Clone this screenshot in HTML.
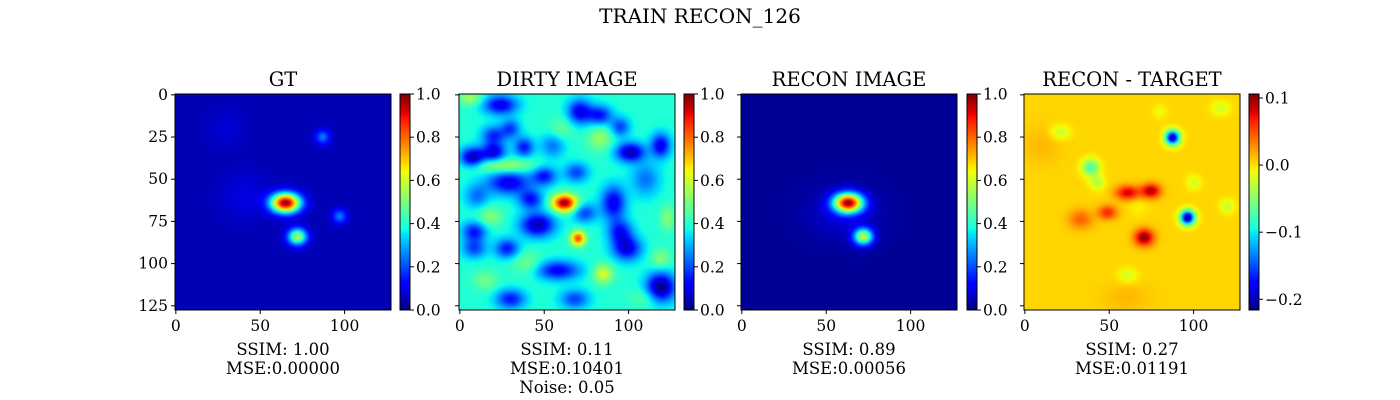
<!DOCTYPE html>
<html><head><meta charset="utf-8">
<style>
body{margin:0;background:#fff;width:1400px;height:400px;overflow:hidden;position:relative;font-family:"DejaVu Serif","Liberation Serif",serif;}
canvas{position:absolute;}
svg{position:absolute;left:0;top:0;}
svg text{font-family:"DejaVu Serif","Liberation Serif",serif;fill:#000;}
</style></head>
<body>
<canvas id="c0" width="128" height="128" style="left:175px;top:94px;width:216px;height:216px"></canvas>
<canvas id="c1" width="128" height="128" style="left:459px;top:94px;width:216px;height:216px"></canvas>
<canvas id="c2" width="128" height="128" style="left:741px;top:94px;width:216px;height:216px"></canvas>
<canvas id="c3" width="128" height="128" style="left:1024px;top:94px;width:216px;height:216px"></canvas>
<canvas id="b0" width="1" height="216" style="left:400px;top:94px;width:10px;height:216px"></canvas>
<canvas id="b1" width="1" height="216" style="left:684px;top:94px;width:10px;height:216px"></canvas>
<canvas id="b2" width="1" height="216" style="left:967px;top:94px;width:10px;height:216px"></canvas>
<canvas id="b3" width="1" height="216" style="left:1249px;top:94px;width:10px;height:216px"></canvas>
<svg id="s" width="1400" height="400"></svg>
<script>
// blobs: [x, y, amplitude, sigmaX, sigmaY]
const gtBase = 0.045;
const gtBlobs = [[65,64,0.95,6,4],[72,84,0.5,4,3.5],[87,25,0.2,3,3],[97,72,0.2,3,3],[40,60,0.04,10,10],[30,20,0.03,8,8]];
const dirtyBase = 0.39;
const dirtyBlobs = [[62,64,0.6,5,3.5],[70,85,0.45,3,3],[85,106,0.22,4,4],[26,42,0.18,12,3],[83,26,0.14,5,5],[18,72,0.12,5,4],[119,97,0.12,4,4],[123,73,0.12,3,5],[6,2,0.15,5,3],[40,100,0.1,6,5],[110,120,0.08,6,4],[60,20,0.08,5,5],[15,110,0.1,5,4],
[7.5,37,-0.35,5,4],[20,34,-0.3,5,4],[29,52,-0.3,9,5],[38,31,-0.25,4,4],[50,48,-0.25,5,4],[42,62,-0.25,5,4],[46,77,-0.35,7,5],[8.5,81,-0.25,5,4],[28,91,-0.25,5,4],[8.5,91,-0.2,5,4],[58,104,-0.28,9,4],[119,114,-0.4,6,6],[101,34,-0.35,6,4],[119,30,-0.3,4,5],[91,64,-0.3,5,7],[95,81,-0.25,5,5],[99,91,-0.3,6,5],[69,46,-0.2,5,4],[24,6,-0.3,7,4],[71,10,-0.3,5,5],[83,12,-0.25,5,4],[95,19,-0.2,4,4],[20,24,-0.22,5,4],[30,121,-0.25,6,4],[68,121,-0.2,6,4],[30,20,-0.2,4,4],[74,70,-0.2,5,4],[110,50,-0.15,6,7],[55,30,-0.15,5,5],[10,60,-0.15,5,5]];
const reconBase = 0.02;
const reconBlobs = [[63,64,0.92,6,4],[72,84,0.55,4,3.5],[60,70,0.06,14,10]];
const diffBase = 0.004;
const diffBlobs = [[87.5,25.3,-0.21,3,3],[96.4,72.7,-0.22,3,3],[39,43,-0.08,3.5,3.5],[74.7,56.9,0.09,4,3],[61,58,0.08,5,3],[70.7,84.5,0.1,4,3.5],[49,69.7,0.06,4,3],[33,73.7,0.04,5,4],[67,66,-0.01,4,4],[21,22,-0.03,4,3],[43,52,-0.035,3,3],[116,8,-0.025,4,3],[120,66,-0.03,3,3],[100,52,-0.025,3,3],[61,107,-0.025,4,3],[80,10,-0.015,3,3],[10,30,0.01,8,8],[60,120,0.01,10,6]];
const ranges = [[0,1],[0,1],[0,1],[-0.216,0.106]];
const cbTicks = [[0,0.2,0.4,0.6,0.8,1.0],[0,0.2,0.4,0.6,0.8,1.0],[0,0.2,0.4,0.6,0.8,1.0],[-0.2,-0.1,0.0,0.1]];
const cbLabels = [["0.0","0.2","0.4","0.6","0.8","1.0"],["0.0","0.2","0.4","0.6","0.8","1.0"],["0.0","0.2","0.4","0.6","0.8","1.0"],["\u22120.2","\u22120.1","0.0","0.1"]];
const axTicks = [0,25,50,75,100,125];
const xTicks = [0,50,100];
const titles = ["GT","DIRTY IMAGE","RECON IMAGE","RECON - TARGET"];
const captions = [["SSIM: 1.00","MSE:0.00000"],["SSIM: 0.11","MSE:0.10401","Noise: 0.05"],["SSIM: 0.89","MSE:0.00056"],["SSIM: 0.27","MSE:0.01191"]];
const panelX = [175,459,741,1024];
const cbX = [400,684,967,1249];
const top0 = 94, size = 216;

function interp(pts,t){for(let i=1;i<pts.length;i++){if(t<=pts[i][0]){const a=pts[i-1],b=pts[i];return a[1]+(b[1]-a[1])*(t-a[0])/(b[0]-a[0]);}}return pts[pts.length-1][1];}
const JR=[[0,0],[0.35,0],[0.66,1],[0.89,1],[1,0.5]];
const JG=[[0,0],[0.125,0],[0.375,1],[0.64,1],[0.91,0],[1,0]];
const JB=[[0,0.5],[0.11,1],[0.34,1],[0.65,0],[1,0]];
function jet(t){t=Math.max(0,Math.min(1,t));return [interp(JR,t),interp(JG,t),interp(JB,t)].map(v=>Math.round(v*255));}
function render(id,base,blobs,r){
 const c=document.getElementById(id),ctx=c.getContext('2d'),im=ctx.createImageData(128,128);
 for(let y=0;y<128;y++)for(let x=0;x<128;x++){let v=base;
  for(const b of blobs){const dx=(x-b[0])/b[3],dy=(y-b[1])/b[4];v+=b[2]*Math.exp(-0.5*(dx*dx+dy*dy));}
  const col=jet((v-r[0])/(r[1]-r[0]));const i=(y*128+x)*4;im.data[i]=col[0];im.data[i+1]=col[1];im.data[i+2]=col[2];im.data[i+3]=255;}
 ctx.putImageData(im,0,0);}
render('c0',gtBase,gtBlobs,ranges[0]);render('c1',dirtyBase,dirtyBlobs,ranges[1]);
render('c2',reconBase,reconBlobs,ranges[2]);render('c3',diffBase,diffBlobs,ranges[3]);
for(let k=0;k<4;k++){const c=document.getElementById('b'+k),ctx=c.getContext('2d');
 for(let y=0;y<216;y++){const col=jet(1-y/215);ctx.fillStyle=`rgb(${col})`;ctx.fillRect(0,y,1,1);}}
const s=document.getElementById('s');const NS='http://www.w3.org/2000/svg';
function el(t,a,p){const e=document.createElementNS(NS,t);for(const k in a)e.setAttribute(k,a[k]);(p||s).appendChild(e);return e;}
const sc=v=>(v+0.5)*size/128;
let t=el('text',{x:700,y:23,'text-anchor':'middle','font-size':20});t.textContent='TRAIN RECON_126';


for(let k=0;k<4;k++){const X=panelX[k];
 const g=el('g',{});
 
 
 el('rect',{x:X,y:top0,width:size,height:size,fill:'none',stroke:'#000','stroke-width':1},g);
 const tt=el('text',{x:X+size/2,y:86,'text-anchor':'middle','font-size':19.5},g);tt.textContent=titles[k];
 
 
 for(const v of axTicks){const y=top0+sc(v);
  el('line',{x1:X-4,x2:X,y1:y,y2:y,stroke:'#000'},g);
  if(k===0){const l=el('text',{x:X-7,y:y+5,'text-anchor':'end','font-size':15.5},g);l.textContent=v;
   
   }}
 for(const v of xTicks){const x=X+sc(v);
  el('line',{x1:x,x2:x,y1:top0+size,y2:top0+size+4,stroke:'#000'},g);
  const l=el('text',{x:x,y:top0+size+21,'text-anchor':'middle','font-size':15.5},g);l.textContent=v;
  
  }
 captions[k].forEach((c,i)=>{const l=el('text',{x:X+size/2,y:355+i*19,'text-anchor':'middle','font-size':16.5},g);l.textContent=c;
  
  });
 const CX=cbX[k],r=ranges[k];
 el('rect',{x:CX,y:top0,width:10,height:size,fill:'none',stroke:'#000'},g);
 cbTicks[k].forEach((v,i)=>{const y=top0+size-(v-r[0])/(r[1]-r[0])*size;
  el('line',{x1:CX+10,x2:CX+14,y1:y,y2:y,stroke:'#000'},g);
  const l=el('text',{x:CX+16,y:y+5.5,'font-size':15.5},g);l.textContent=cbLabels[k][i];
  
  });
}
</script>
</body></html>
